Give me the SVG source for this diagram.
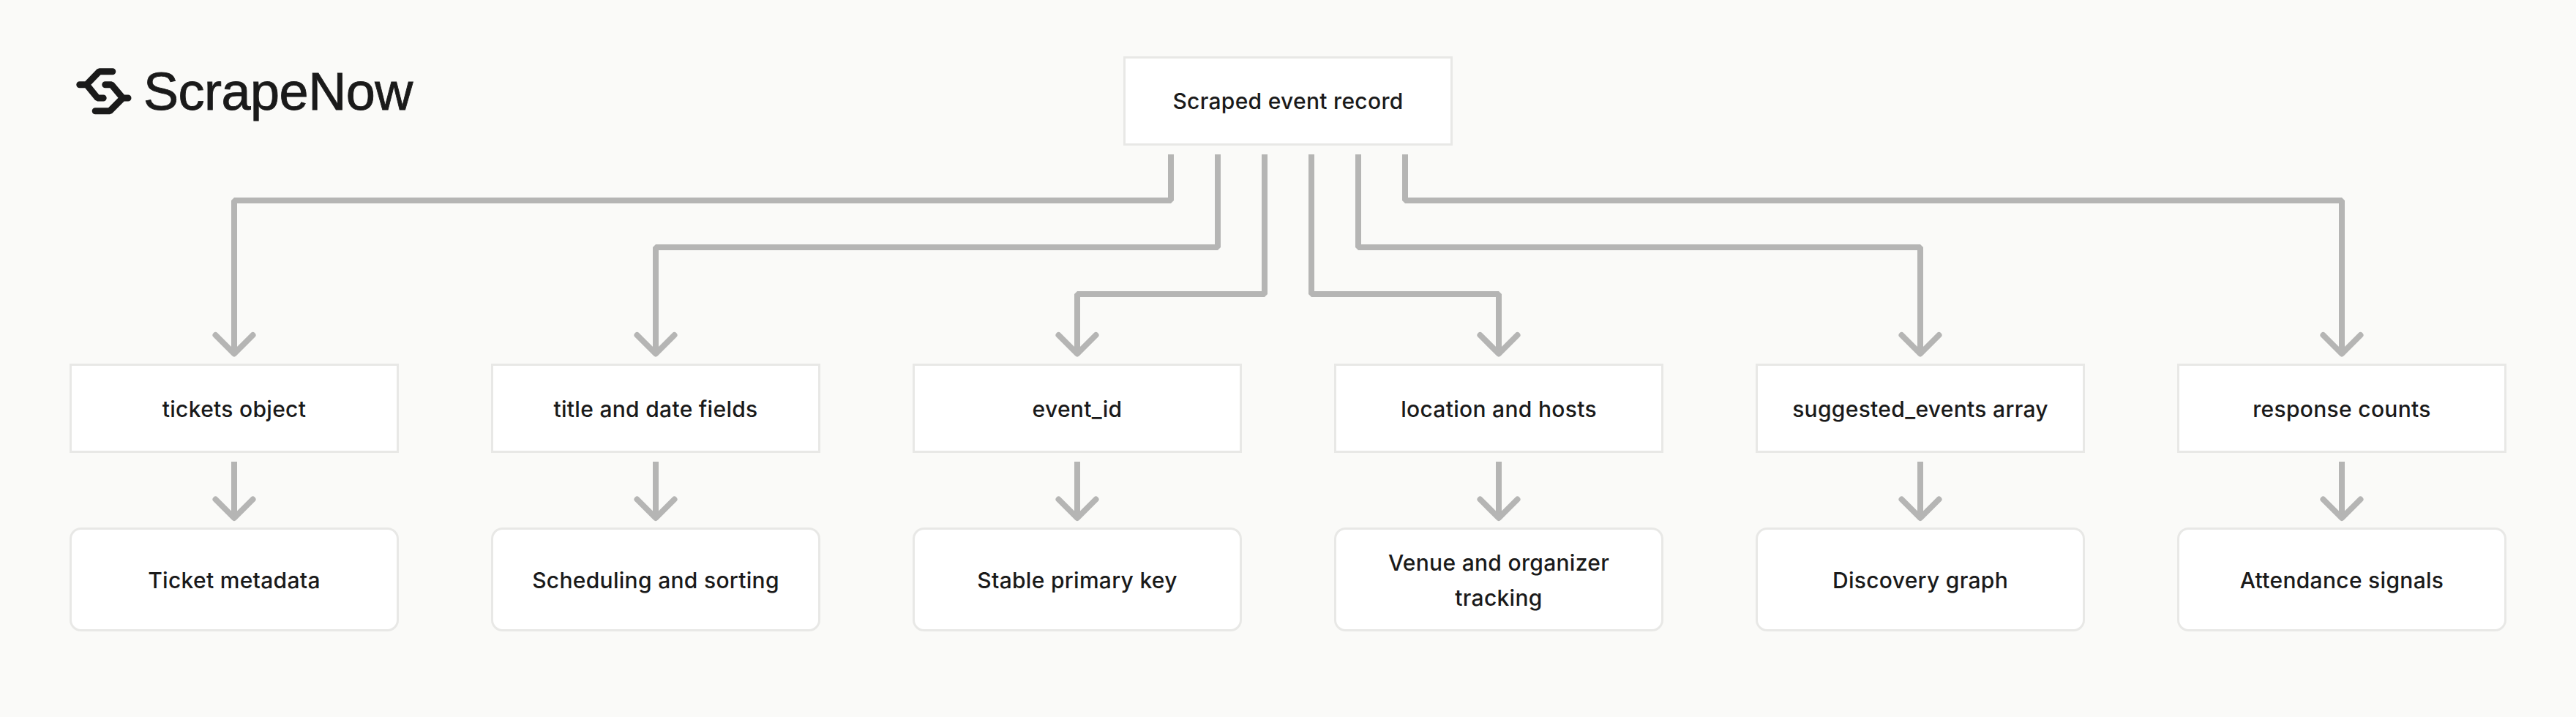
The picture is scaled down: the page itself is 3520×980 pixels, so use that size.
<svg xmlns="http://www.w3.org/2000/svg" width="3520" height="980" viewBox="0 0 3520 980">
<style>
text{font-family:"Inter","Liberation Sans",sans-serif;fill:#1a1a1a;font-size:30px;font-weight:450;letter-spacing:.3px;text-anchor:middle}
.logo{font-family:"Liberation Sans",sans-serif;font-size:72px;font-weight:400;text-anchor:start;letter-spacing:-0.5px;stroke:#1a1a1a;stroke-width:.9px}
.box{fill:#fff;stroke:#e8e8e6;stroke-width:3}
.c{fill:none;stroke:#b5b5b4;stroke-width:8;stroke-linejoin:bevel}
.h{fill:none;stroke:#b5b5b4;stroke-width:8;stroke-linejoin:round;stroke-linecap:round}
.i{fill:none;stroke:#1a1a1a;stroke-width:9;stroke-linejoin:bevel;stroke-linecap:round}
</style>
<defs>
<path id="ah" class="h" d="M-25.500-25.500L0 0L25.500-25.500"/>
</defs>
<rect width="3520" height="980" fill="#fafaf8"/>
<g id="logo">
<path class="i" d="M153.800 97.700H135.700L118.300 115.700H108.800M118.300 115.700L133.300 134H141.200"/>
<path class="i" d="M143.800 115.700H152.300L167.700 134H175M167.700 134L150 151.700H130.200"/>
<text class="logo" x="196" y="150">ScrapeNow</text>
</g>
<g id="connectors">
<path class="c" d="M1600 211V274H320V483"/><use href="#ah" x="320" y="483.500"/>
<path class="c" d="M1664 211V338H896V483"/><use href="#ah" x="896" y="483.500"/>
<path class="c" d="M1728 211V402H1472V483"/><use href="#ah" x="1472" y="483.500"/>
<path class="c" d="M1792 211V402H2048V483"/><use href="#ah" x="2048" y="483.500"/>
<path class="c" d="M1856 211V338H2624V483"/><use href="#ah" x="2624" y="483.500"/>
<path class="c" d="M1920 211V274H3200V483"/><use href="#ah" x="3200" y="483.500"/>
<path class="c" d="M320 631V708"/><use href="#ah" x="320" y="708"/>
<path class="c" d="M896 631V708"/><use href="#ah" x="896" y="708"/>
<path class="c" d="M1472 631V708"/><use href="#ah" x="1472" y="708"/>
<path class="c" d="M2048 631V708"/><use href="#ah" x="2048" y="708"/>
<path class="c" d="M2624 631V708"/><use href="#ah" x="2624" y="708"/>
<path class="c" d="M3200 631V708"/><use href="#ah" x="3200" y="708"/>
</g>
<g id="root"><rect class="box" x="1536.500" y="78.500" width="447" height="119"/><text x="1760" y="149">Scraped event record</text></g>
<g id="f1"><rect class="box" x="96.500" y="498.500" width="447" height="119"/><text x="320" y="569.500">tickets object</text></g>
<g id="f2"><rect class="box" x="672.500" y="498.500" width="447" height="119"/><text x="896" y="569.500">title and date fields</text></g>
<g id="f3"><rect class="box" x="1248.500" y="498.500" width="447" height="119"/><text x="1472" y="569.500">event_id</text></g>
<g id="f4"><rect class="box" x="1824.500" y="498.500" width="447" height="119"/><text x="2048" y="569.500">location and hosts</text></g>
<g id="f5"><rect class="box" x="2400.500" y="498.500" width="447" height="119"/><text x="2624" y="569.500">suggested_events array</text></g>
<g id="f6"><rect class="box" x="2976.500" y="498.500" width="447" height="119"/><text x="3200" y="569.500">response counts</text></g>
<g id="u1"><rect class="box" x="96.500" y="722.500" width="447" height="139" rx="14"/><text x="320" y="804">Ticket metadata</text></g>
<g id="u2"><rect class="box" x="672.500" y="722.500" width="447" height="139" rx="14"/><text x="896" y="804">Scheduling and sorting</text></g>
<g id="u3"><rect class="box" x="1248.500" y="722.500" width="447" height="139" rx="14"/><text x="1472" y="804">Stable primary key</text></g>
<g id="u4"><rect class="box" x="1824.500" y="722.500" width="447" height="139" rx="14"/><text x="2048" y="780">Venue and organizer</text><text x="2048" y="828">tracking</text></g>
<g id="u5"><rect class="box" x="2400.500" y="722.500" width="447" height="139" rx="14"/><text x="2624" y="804">Discovery graph</text></g>
<g id="u6"><rect class="box" x="2976.500" y="722.500" width="447" height="139" rx="14"/><text x="3200" y="804">Attendance signals</text></g>
</svg>
